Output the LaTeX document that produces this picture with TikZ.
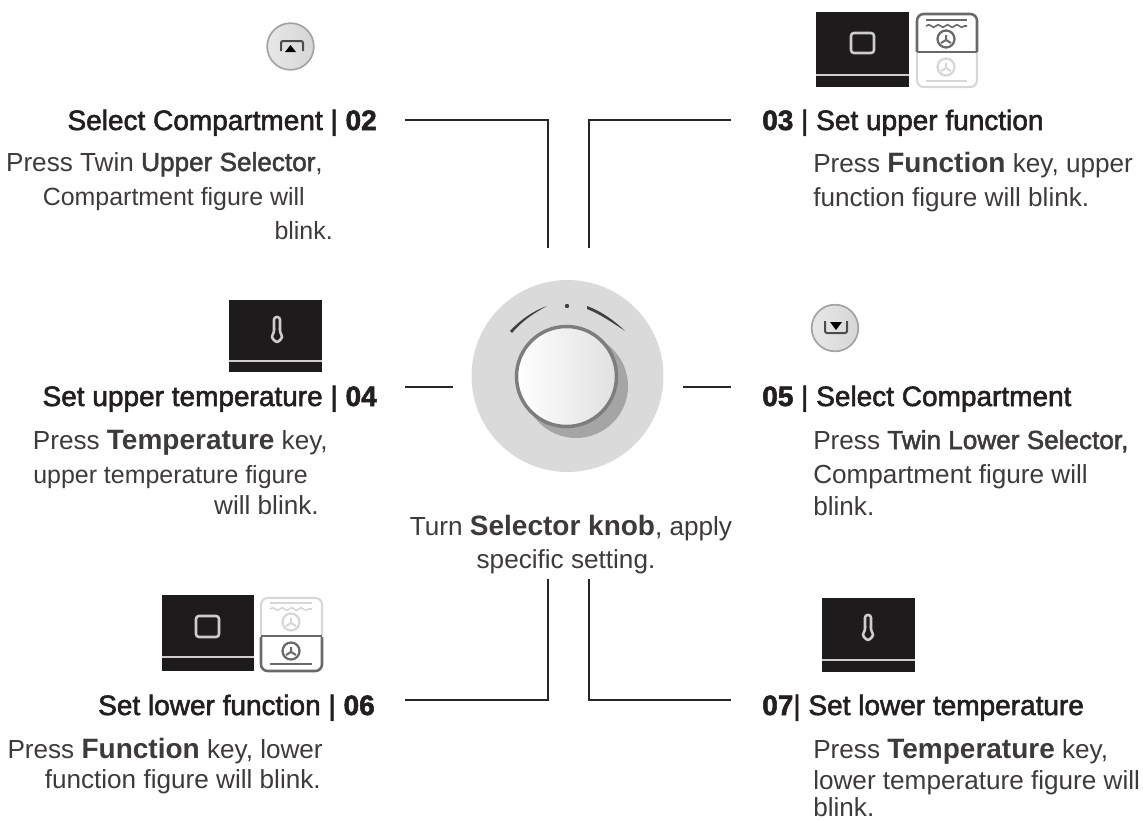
\documentclass[tikz,border=0pt]{standalone}
\usepackage{fontspec}
\usetikzlibrary{decorations.pathmorphing}
\setmainfont{Liberation Sans}
\newfontfamily\semifont[FakeBold=2]{Liberation Sans}
\newcommand{\semi}[1]{{\semifont #1}}
\newcommand{\keyword}[1]{{\fontsize{21}{24}\selectfont\bfseries #1}}
\definecolor{inktext}{RGB}{35,31,32}
\definecolor{bodyink}{RGB}{60,58,58}
\definecolor{keyblack}{RGB}{30,27,28}
\definecolor{keyline}{RGB}{205,205,205}
\definecolor{ringgray}{RGB}{218,218,218}
\definecolor{shadegray}{RGB}{165,165,165}
\definecolor{rimgray}{RGB}{125,125,125}
\definecolor{ovendark}{RGB}{105,105,105}
\definecolor{ovenpale}{RGB}{215,215,215}
\tikzset{
  headtext/.style={inner sep=0pt,text=inktext,font=\fontsize{21}{24}\semifont},
  bodytext/.style={inner sep=0pt,text=bodyink,font=\fontsize{19.6}{24}\selectfont},
  bodynarrow/.style={inner sep=0pt,text=bodyink,font=\fontsize{18.7}{24}\selectfont},
  leader/.style={draw=black!85,line width=2.1pt},
  keybox/.style={fill=keyblack,draw=none},
  keymark/.style={draw=keyline,line width=1.9pt,rounded corners=2.2pt},
  roundkey/.style={circle,draw=rimgray!70,line width=1.3pt,inner sep=0pt,minimum size=35pt,
    left color=ringgray!65,right color=ringgray!110},
}
% one half of the oven figure: fan at (#1,#2) in colour #3
\newcommand{\ovenfan}[3]{
  \draw [#3,line width=1.7pt] (#1,#2) circle [radius=8.5];
  \draw [#3,line width=1.5pt] (#1,#2-4) -- (#1,#2+1) (#1-5,#2+4) -- (#1,#2+1) -- (#1+5,#2+4);
}
\begin{document}
\begin{tikzpicture}[x=0.75pt,y=0.75pt,yscale=-1,xscale=1]
  \useasboundingbox (0,0) rectangle (1143,821);

  % Leader Lines
  \coordinate (tlstart) at (405,120);
  \coordinate (tlend) at (548,248);
  \coordinate (trstart) at (731,120);
  \coordinate (trend) at (589,248);
  \coordinate (mlstart) at (405,387);
  \coordinate (mlend) at (453,387);
  \coordinate (mrstart) at (683,387);
  \coordinate (mrend) at (731,387);
  \coordinate (blstart) at (405,700);
  \coordinate (blend) at (548,579);
  \coordinate (brstart) at (731,700);
  \coordinate (brend) at (589,579);
  \draw [leader] (tlstart) -| (tlend);
  \draw [leader] (trstart) -| (trend);
  \draw [leader] (mlstart) -- (mlend);
  \draw [leader] (mrstart) -- (mrend);
  \draw [leader] (blstart) -| (blend);
  \draw [leader] (brstart) -| (brend);

  % Selector knob
  \fill [ringgray] (567.5,376) circle [radius=96];
  \fill [shadegray] (576,386) circle [radius=52];
  \draw [rimgray,line width=2.6pt,left color=white,right color=black!12] (566.5,376.5) circle [radius=50];
  \fill [black!75] (567,306) circle [radius=2.2];
  \fill [black!75] (510,331) .. controls (520,320) and (533,311) .. (547,306) .. controls (534,313) and (522,321) .. (512,333) -- cycle;
  \fill [black!75] (587,306) .. controls (601,311) and (615,321) .. (625,331) .. controls (613,323) and (600,314) .. (587,309) -- cycle;

  % Upper selector key
  \node [roundkey] (upperkey) at (290.5,46.5) {};
  \draw [black!70,line width=1.5pt,rounded corners=1.5pt] (281,51) -- (281,41) -- (303,41) -- (303,51);
  \fill [black] (285,52) -- (290.5,45) -- (296,52) -- cycle;

  % Lower selector key
  \node [roundkey] (lowerkey) at (835,328) {};
  \draw [black!70,line width=1.5pt,rounded corners=1.5pt] (825,321) -- (825,333) -- (847,333) -- (847,321);
  \fill [black] (830,322) -- (842,322) -- (836,330) -- cycle;

  % Function key, upper
  \fill [keybox] (816,12) rectangle (909,87);
  \draw [keyline,line width=1.4pt] (816,75) -- (909,75);
  \draw [keymark] (851,33) rectangle (874,53);
  \draw [ovendark,line width=1.9pt,rounded corners=5pt] (917,52) -- (917,14) -- (977,14) -- (977,52);
  \draw [ovendark,line width=2.2pt] (917,52) -- (977,52);
  \draw [ovendark,line width=1.4pt] (926,20) -- (967,20);
  \draw [ovendark,line width=1.2pt,decorate,decoration={snake,amplitude=1pt,segment length=7pt}] (926,26) -- (967,26);
  \ovenfan{946}{39}{ovendark}
  \draw [ovenpale,line width=1.6pt,rounded corners=5pt] (917,53) -- (917,87) -- (977,87) -- (977,53);
  \draw [ovenpale,line width=1.4pt] (926,81) -- (967,81);
  \ovenfan{946}{67}{ovenpale}

  % Function key, lower
  \fill [keybox] (162,595) rectangle (254,671);
  \draw [keyline,line width=1.4pt] (162,657) -- (254,657);
  \draw [keymark] (196,616) rectangle (219,637);
  \draw [ovenpale,line width=1.6pt,rounded corners=5pt] (261,636) -- (261,598) -- (322,598) -- (322,636);
  \draw [ovenpale,line width=1.4pt] (270,603) -- (312,603);
  \draw [ovenpale,line width=1.2pt,decorate,decoration={snake,amplitude=1pt,segment length=7pt}] (270,609) -- (312,609);
  \ovenfan{291}{622}{ovenpale}
  \draw [ovendark,line width=2.2pt] (261,636) -- (322,636);
  \draw [ovendark,line width=1.9pt,rounded corners=5pt] (261,637) -- (261,671) -- (322,671) -- (322,637);
  \draw [ovendark,line width=1.4pt] (270,664) -- (312,664);
  \ovenfan{291}{651}{ovendark}

  % Temperature key, upper
  \fill [keybox] (229,300) rectangle (322,372);
  \draw [keyline,line width=1.4pt] (229,361) -- (322,361);
  \draw [keymark,rounded corners=2pt] (274,317) -- (280,317) -- (280,333) -- (283,337) -- (277,343) -- (271,337) -- (274,333) -- cycle;

  % Temperature key, lower
  \fill [keybox] (822,598) rectangle (915,672);
  \draw [keyline,line width=1.4pt] (822,660) -- (915,660);
  \draw [keymark,rounded corners=2pt] (865,615) -- (871,615) -- (871,631) -- (874,635) -- (868,641) -- (862,635) -- (865,631) -- cycle;

  % Text Node
  \node [headtext,anchor=base east] (head02) at (377,130) {Select Compartment | \textbf{02}};
  \node [bodytext,anchor=base east] (body02a) at (323,171) {Press Twin \semi{Upper Selector},};
  \node [bodynarrow,anchor=base east] (body02b) at (305,205) {Compartment figure will};
  \node [bodynarrow,anchor=base east] (body02c) at (333,239) {blink.};
  % Text Node
  \node [headtext,anchor=base east] (head04) at (377,406) {Set upper temperature | \textbf{04}};
  \node [bodytext,anchor=base east] (body04a) at (328,449) {Press \keyword{Temperature} key,};
  \node [bodynarrow,anchor=base east] (body04b) at (308,483) {upper temperature figure};
  \node [bodytext,anchor=base east] (body04c) at (319,514) {will blink.};
  % Text Node
  \node [headtext,anchor=base east] (head06) at (375,715) {Set lower function | \textbf{06}};
  \node [bodytext,anchor=base east] (body06a) at (323,758) {Press \keyword{Function} key, lower};
  \node [bodytext,anchor=base east] (body06b) at (321,788) {function figure will blink.};
  % Text Node
  \node [headtext,anchor=base west] (head03) at (762,130) {\textbf{03} | Set upper function};
  \node [bodytext,anchor=base west] (body03a) at (813,172) {Press \keyword{Function} key, upper};
  \node [bodytext,anchor=base west] (body03b) at (813,206) {function figure will blink.};
  % Text Node
  \node [headtext,anchor=base west] (head05) at (762,406) {\textbf{05} | Select Compartment};
  \node [bodytext,anchor=base west] (body05a) at (813,449) {Press \semi{Twin Lower Selector,}};
  \node [bodytext,anchor=base west] (body05b) at (813,483) {Compartment figure will};
  \node [bodytext,anchor=base west] (body05c) at (813,515) {blink.};
  % Text Node
  \node [headtext,anchor=base west] (head07) at (762,715) {\textbf{07}| Set lower temperature};
  \node [bodytext,anchor=base west] (body07a) at (813,758) {Press \keyword{Temperature} key,};
  \node [bodytext,anchor=base west] (body07b) at (813,789) {lower temperature figure will};
  \node [bodytext,anchor=base west] (body07c) at (813,816) {blink.};
  % Text Node
  \node [bodytext,anchor=base] (knobtexta) at (571,535) {Turn \keyword{Selector knob}, apply};
  \node [bodytext,anchor=base] (knobtextb) at (566,568) {specific setting.};
\end{tikzpicture}
\end{document}
